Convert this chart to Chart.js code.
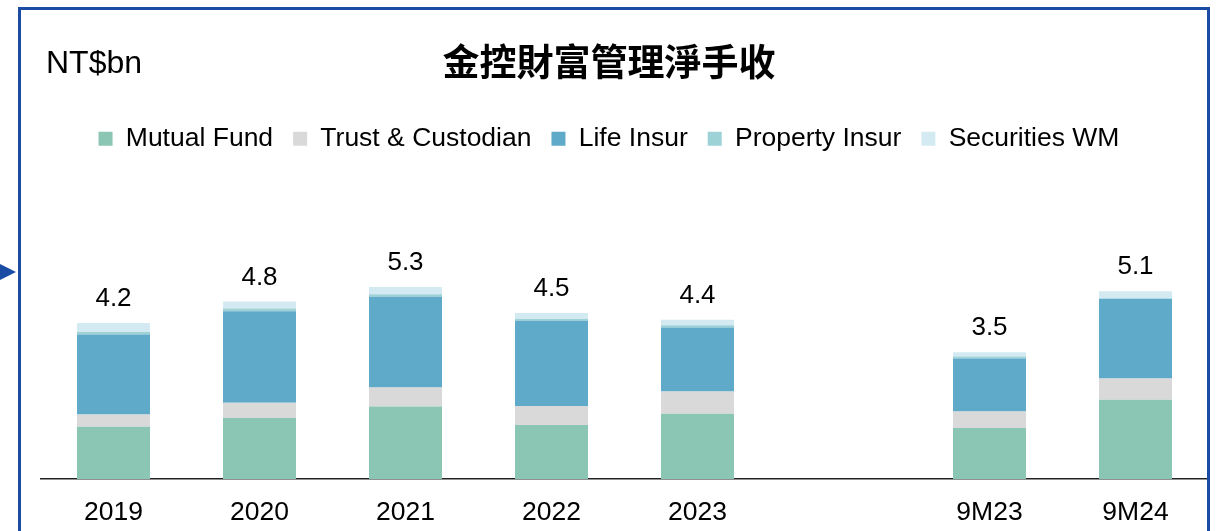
<!DOCTYPE html>
<html>
<head>
<meta charset="utf-8">
<script src="https://cdn.jsdelivr.net/npm/chart.js@4.4.1/dist/chart.umd.min.js"></script>
<style>
  html, body { margin: 0; padding: 0; background: #fff; overflow: hidden; }
  #wrap { position: relative; width: 1218px; height: 531px; }
  #frame {
    position: absolute; left: 18px; top: 7px; width: 1186px; height: 600px;
    border: 3px solid #1a4ca3; pointer-events: none;
  }
  #arrow {
    position: absolute; left: 0; top: 264px; width: 0; height: 0;
    border-top: 8px solid transparent; border-bottom: 8px solid transparent;
    border-left: 16px solid #1a4ca3;
  }
</style>
</head>
<body>
<div id="wrap">
  <canvas id="wm-chart"></canvas>
  <div id="frame"></div>
  <div id="arrow"></div>
</div>
<script>
// categories (empty slot separates the full years from the 9M figures)
const categories = ['2019', '2020', '2021', '2022', '2023', '', '9M23', '9M24'];
const totalLabels = ['4.2', '4.8', '5.3', '4.5', '4.4', '', '3.5', '5.1'];

const mutualFund    = [1.41, 1.65, 1.96, 1.46, 1.76, null, 1.38, 2.14];
const trustCustody  = [0.33, 0.41, 0.51, 0.51, 0.60, null, 0.44, 0.57];
const lifeInsur     = [2.16, 2.47, 2.45, 2.30, 1.73, null, 1.43, 2.15];
const propertyInsur = [0.07, 0.07, 0.07, 0.05, 0.06, null, 0.06, 0.02];
const securitiesWM  = [0.24, 0.19, 0.19, 0.16, 0.15, null, 0.11, 0.19];

const LATIN = "'Liberation Sans', Arial, sans-serif";

// totals above each stack + unit label top-left
const extras = {
    id: 'extras',
    afterDatasetsDraw(chart) {
        const { ctx } = chart;
        const last = chart.getDatasetMeta(chart.data.datasets.length - 1);
        ctx.save();
        ctx.fillStyle = '#000';
        ctx.font = '26px ' + LATIN;
        ctx.textAlign = 'center';
        ctx.textBaseline = 'alphabetic';
        last.data.forEach((bar, i) => {
            if (!totalLabels[i]) return;
            ctx.fillText(totalLabels[i], bar.x, bar.y - 17);
        });
        ctx.font = '32px ' + LATIN;
        ctx.textAlign = 'left';
        ctx.fillText('NT$bn', 46, 73);
        ctx.restore();
    }
};

function ds(label, data, color) {
    return { label, data, backgroundColor: color, borderWidth: 0, barPercentage: 0.5, categoryPercentage: 1 };
}

new Chart(document.getElementById('wm-chart'), {
    type: 'bar',
    data: {
        labels: categories,
        datasets: [
            ds('Mutual Fund', mutualFund, '#8bc6b4'),
            ds('Trust & Custodian', trustCustody, '#d9d9d9'),
            ds('Life Insur', lifeInsur, '#5fa9c9'),
            ds('Property Insur', propertyInsur, '#9dd2d7'),
            ds('Securities WM', securitiesWM, '#d3eaf2')
        ]
    },
    options: {
        responsive: true,
        maintainAspectRatio: false,
        animation: false,
        layout: { padding: { left: 9.5, right: 9.5, top: 0, bottom: 0 } },
        plugins: {
            title: {
                display: true,
                text: '金控財富管理淨手收',
                color: '#000',
                font: { family: "'Noto Sans CJK TC', 'Noto Sans CJK SC', sans-serif", size: 37, weight: 'bold' },
                padding: { top: 40, bottom: 21 }
            },
            legend: {
                position: 'top',
                labels: {
                    color: '#000',
                    font: { family: LATIN, size: 26.5 },
                    boxWidth: 14,
                    boxHeight: 14,
                    padding: 20
                }
            },
            tooltip: { enabled: false }
        },
        scales: {
            x: {
                stacked: true,
                grid: { display: false, drawTicks: false },
                border: { display: true, color: '#222', width: 1.5 },
                ticks: { color: '#000', font: { family: LATIN, size: 26.5 }, padding: 18, maxRotation: 0, autoSkip: false },
                afterFit: (s) => { s.height = 52; }
            },
            y: {
                stacked: true,
                min: 0,
                max: 8.56,
                grid: { display: false },
                border: { display: false },
                ticks: { display: false },
                afterFit: (s) => { s.width = 31; }
            }
        }
    },
    plugins: [extras]
});
</script>
</body>
</html>
